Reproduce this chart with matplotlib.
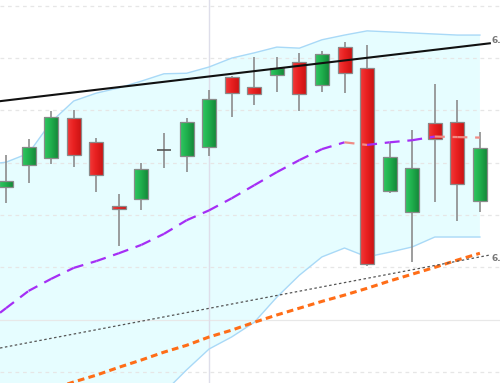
import numpy as np
import matplotlib
matplotlib.use("Agg")
import matplotlib.pyplot as plt
from matplotlib.patches import Rectangle
from matplotlib.colors import LinearSegmentedColormap

# ---- data (price units) ----
opens  = [6.1653, 6.1695, 6.1709, 6.1785, 6.1739, 6.1617, 6.1631, 6.1724, 6.1713, 6.1730, 6.1864,
          6.1845, 6.1868, 6.1892, 6.1848, 6.1921, 6.1881, 6.1646, 6.1606, 6.1776, 6.1778, 6.1627]
highs  = [6.1715, 6.1745, 6.1799, 6.1801, 6.1747, 6.1640, 6.1699, 6.1757, 6.1785, 6.1839, 6.1866,
          6.1902, 6.1902, 6.1910, 6.1913, 6.1931, 6.1925, 6.1738, 6.1762, 6.1850, 6.1820, 6.1759]
lows   = [6.1623, 6.1661, 6.1697, 6.1692, 6.1644, 6.1541, 6.1609, 6.1690, 6.1682, 6.1713, 6.1787,
          6.1810, 6.1835, 6.1799, 6.1835, 6.1833, 6.1502, 6.1642, 6.1510, 6.1625, 6.1588, 6.1606]
closes = [6.1665, 6.1730, 6.1787, 6.1715, 6.1676, 6.1611, 6.1688, 6.1724, 6.1778, 6.1822, 6.1833,
          6.1831, 6.1881, 6.1831, 6.1908, 6.1871, 6.1506, 6.1711, 6.1690, 6.1745, 6.1659, 6.1728]

# Bollinger bands (index -1 .. 21)
band_upper = [6.1696, 6.1701, 6.1718, 6.1778, 6.1818, 6.1833, 6.1843, 6.1856, 6.1870, 6.1871, 6.1883,
              6.1900, 6.1910, 6.1921, 6.1919, 6.1935, 6.1944, 6.1952, 6.1950, 6.1948, 6.1946, 6.1944, 6.1944]
band_lower = [6.0883, 6.0940, 6.0998, 6.1055, 6.1103, 6.1151, 6.1189, 6.1223, 6.1261, 6.1304, 6.1344,
              6.1367, 6.1395, 6.1443, 6.1485, 6.1520, 6.1537, 6.1520, 6.1529, 6.1539, 6.1558, 6.1558, 6.1558]

# moving averages (index 0 .. 21)
ma_short = [6.1422, 6.1455, 6.1478, 6.1499, 6.1512, 6.1527, 6.1543, 6.1564, 6.1590, 6.1609, 6.1632,
            6.1657, 6.1682, 6.1705, 6.1726, 6.1739, 6.1734, 6.1739, 6.1743, 6.1750, 6.1749, 6.1748]
ma_long  = [6.1240, 6.1254, 6.1267, 6.1281, 6.1294, 6.1309, 6.1323, 6.1338, 6.1351, 6.1367, 6.1380,
            6.1395, 6.1409, 6.1422, 6.1435, 6.1447, 6.1460, 6.1474, 6.1487, 6.1500, 6.1514, 6.1527]

# trend lines: values at index 0 and 21
trend_upper = [6.1819, 6.1926]
trend_lower = [6.1348, 6.1520]

grid_levels = [6.20, 6.19, 6.18, 6.17, 6.16, 6.15, 6.14, 6.13]
vline_index = 9

# ---- figure ----
fig = plt.figure(figsize=(5.0, 3.83), dpi=100)
ax = fig.add_axes([0, 0, 1, 1])
ax.set_axis_off()
x0, x1 = -0.266, 21.89
ax.set_xlim(x0, x1)
ax.set_ylim(6.1279, 6.2011)

n = len(opens)
idx = np.arange(n)
bidx = np.arange(-1, n)

# band
ax.fill_between(bidx, band_lower, band_upper, color='#e6fdff', zorder=0, lw=0)
ax.plot(bidx, band_upper, color='#a9d9f7', lw=1.0, zorder=1)
ax.plot(bidx, band_lower, color='#a9d9f7', lw=1.0, zorder=1)

# grid
for g in grid_levels:
    if abs(g - 6.14) < 1e-9:
        ax.axhline(g, color='#e8e8e8', lw=0.9, zorder=0.5)
    else:
        ax.axhline(g, color='#e6e6e6', lw=0.9, ls=(0, (3, 3)), zorder=0.5)
ax.axvline(vline_index, color='#dedeea', lw=1.0, zorder=0.6)

# candles
w = 0.62
red_cmap = LinearSegmentedColormap.from_list('r', ['#f23a3a', '#e82020', '#cc1414'])
green_cmap = LinearSegmentedColormap.from_list('g', ['#2fc862', '#1faf4d', '#158a3a'])
grad = np.linspace(0, 1, 32).reshape(1, -1)
for i in range(n):
    o, h, l, c = opens[i], highs[i], lows[i], closes[i]
    ax.vlines(i, l, h, color='#8c8c8c', lw=1.2, zorder=2)
    if abs(c - o) < 1e-6:
        ax.hlines(o, i - w / 2, i + w / 2, color='#555555', lw=1.2, zorder=3)
        continue
    bot, top = min(o, c), max(o, c)
    cmap = green_cmap if c > o else red_cmap
    rect = Rectangle((i - w / 2, bot), w, top - bot, facecolor='none',
                     edgecolor='#8a8a8a', lw=0.9, zorder=4)
    ax.add_patch(rect)
    im = ax.imshow(grad, cmap=cmap, aspect='auto', extent=(i - w / 2, i + w / 2, bot, top),
                   zorder=3, interpolation='bilinear')
    im.set_clip_path(rect)

ax.set_xlim(x0, x1)
ax.set_ylim(6.1279, 6.2011)

# long MA (orange)
ax.plot(idx, ma_long, color='#ff6d17', lw=2.2, dashes=(2.2, 1.4), zorder=5)

# short MA: purple when rising, salmon when falling
for i in range(n - 1):
    col = '#a52ef5' if ma_short[i + 1] >= ma_short[i] else '#f08c86'
    ax.plot(idx[i:i + 2], ma_short[i:i + 2], color=col, lw=1.6, dashes=(4.5, 3.5), zorder=5)
# left extension
ax.plot([x0, 0], [ma_short[0] - (ma_short[1] - ma_short[0]) * (-x0), ma_short[0]],
        color='#a52ef5', lw=1.6, dashes=(4.5, 3.5), zorder=5)

# trend lines
xe = 21.44
def line_vals(pts, xs):
    s = (pts[1] - pts[0]) / 21.0
    return [pts[0] + s * x for x in xs]

ax.plot([x0, xe], line_vals(trend_upper, [x0, xe]), color='#111111', lw=1.5, zorder=6)
ax.plot([x0, xe], line_vals(trend_lower, [x0, xe]), color='#555555', lw=0.9,
        dashes=(2, 2), zorder=6)

# price tags at right edge (cut off by the frame, as in the reference)
ax.text(21.5, line_vals(trend_upper, [xe])[0] + 0.0006, f"{line_vals(trend_upper, [xe])[0]:.4f}",
        fontsize=6.5, fontweight='bold', color='#777777', va='center', ha='left', zorder=7)
ax.text(21.5, line_vals(trend_lower, [xe])[0] - 0.0007, f"{line_vals(trend_lower, [xe])[0]:.4f}",
        fontsize=6.5, fontweight='bold', color='#777777', va='center', ha='left', zorder=7)

fig.savefig('out.png', dpi=100)
